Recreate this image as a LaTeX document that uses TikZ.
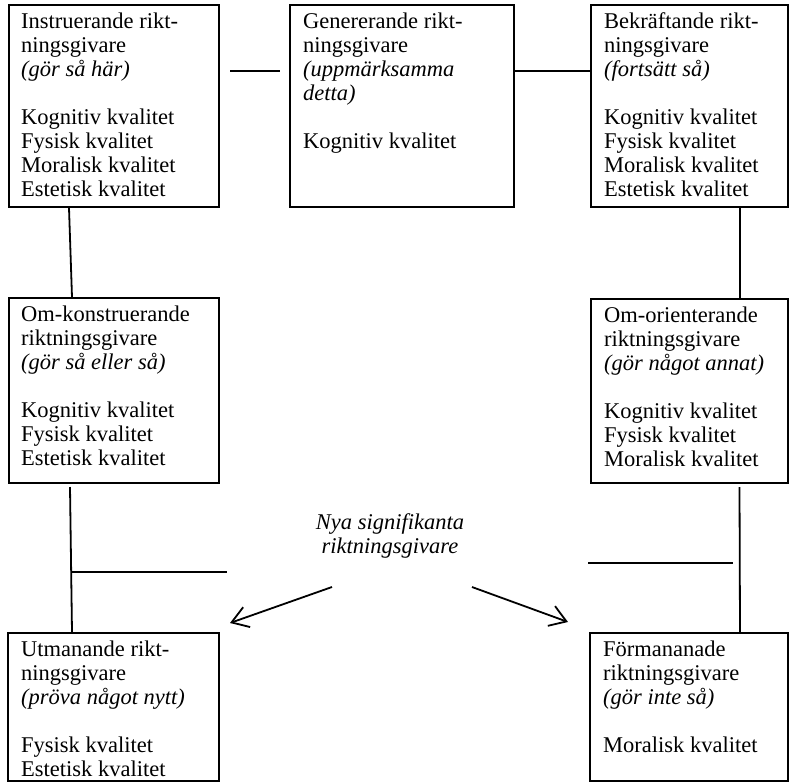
\documentclass[tikz,border=0pt]{standalone}
\usepackage{fontspec}
\setmainfont{Liberation Serif}
\usetikzlibrary{arrows.meta}
\newcommand\boxtext[1]{\parbox[t]{205pt}{\fontsize{22.5}{24}\selectfont\raggedright #1}}
\begin{document}
\begin{tikzpicture}[x=1pt,y=-1pt,
  frame/.style={draw, line width=2pt, inner sep=0pt, anchor=north west},
  txt/.style={inner sep=0pt, anchor=base west},
  link/.style={line width=1.8pt},
  arr/.style={line width=1.8pt, -{Straight Barb[length=16pt,width=21pt]}}]
\useasboundingbox (0,0) rectangle (792,782);
% boxes
\node[frame, minimum width=210pt, minimum height=202pt] (b1) at (8,4) {};
\node[frame, minimum width=224pt, minimum height=202pt] (b2) at (289,4) {};
\node[frame, minimum width=197pt, minimum height=202pt] (b3) at (590,4) {};
\node[frame, minimum width=210pt, minimum height=185pt] (b4) at (8,297) {};
\node[frame, minimum width=197pt, minimum height=184pt] (b5) at (590,298) {};
\node[frame, minimum width=211pt, minimum height=148pt] (b6) at (7,632) {};
\node[frame, minimum width=198pt, minimum height=148pt] (b7) at (589,632) {};
% texts
\node[txt] (t1) at ([xshift=13pt,yshift=-24pt]b1.north west) {\boxtext{Instruerande rikt-\\ningsgivare\\\textit{(gör så här)}\\[24pt]Kognitiv kvalitet\\Fysisk kvalitet\\Moralisk kvalitet\\Estetisk kvalitet}};
\node[txt] (t2) at ([xshift=14pt,yshift=-24pt]b2.north west) {\boxtext{Genererande rikt-\\ningsgivare\\\textit{(uppmärksamma}\\\textit{detta)}\\[24pt]Kognitiv kvalitet}};
\node[txt] (t3) at ([xshift=14pt,yshift=-24pt]b3.north west) {\boxtext{Bekräftande rikt-\\ningsgivare\\\textit{(fortsätt så)}\\[24pt]Kognitiv kvalitet\\Fysisk kvalitet\\Moralisk kvalitet\\Estetisk kvalitet}};
\node[txt] (t4) at ([xshift=13pt,yshift=-24pt]b4.north west) {\boxtext{Om-konstruerande\\riktningsgivare\\\textit{(gör så eller så)}\\[24pt]Kognitiv kvalitet\\Fysisk kvalitet\\Estetisk kvalitet}};
\node[txt] (t5) at ([xshift=14pt,yshift=-24pt]b5.north west) {\boxtext{Om-orienterande\\riktningsgivare\\\textit{(gör något annat)}\\[24pt]Kognitiv kvalitet\\Fysisk kvalitet\\Moralisk kvalitet}};
\node[txt] (t6) at ([xshift=14pt,yshift=-24pt]b6.north west) {\boxtext{Utmanande rikt-\\ningsgivare\\\textit{(pröva något nytt)}\\[24pt]Fysisk kvalitet\\Estetisk kvalitet}};
\node[txt] (t7) at ([xshift=14pt,yshift=-24pt]b7.north west) {\boxtext{Förmananade\\riktningsgivare\\\textit{(gör inte så)}\\[24pt]Moralisk kvalitet}};
% centre label
\node[inner sep=0pt, align=center, font=\fontsize{22.5}{24}\selectfont\itshape] (nsr) at (390,536) {Nya signifikanta\\riktningsgivare};
% connectors
\draw[link] ([xshift=10pt,yshift=35pt]b1.east) -- ([xshift=-9pt,yshift=35pt]b2.west);
\draw[link] ([yshift=35pt]b2.east) -- ([yshift=35pt]b3.west);
\draw[link] ([xshift=-45pt]b1.south) -- ([xshift=-42pt]b4.north);
\draw[link] ([xshift=50.5pt]b3.south) -- ([xshift=50.5pt]b5.north);
\draw[link] ([xshift=-44pt,yshift=-3pt]b4.south) -- ([xshift=-41.5pt]b6.north);
\draw[link] ([xshift=50pt,yshift=-3pt]b5.south) -- ([xshift=51pt]b7.north);
\coordinate (hl1) at (70.5,572);
\coordinate (hl2) at (227,572);
\draw[link] (hl1) -- (hl2);
\coordinate (hr1) at (588,563);
\coordinate (hr2) at (733,563);
\draw[link] (hr1) -- (hr2);
% arrows
\coordinate (al) at (332,587);
\coordinate (alt) at (230,623);
\coordinate (ar) at (472,587);
\coordinate (art) at (568,622);
\draw[arr] (al) -- (alt);
\draw[arr] (ar) -- (art);
\end{tikzpicture}
\end{document}
